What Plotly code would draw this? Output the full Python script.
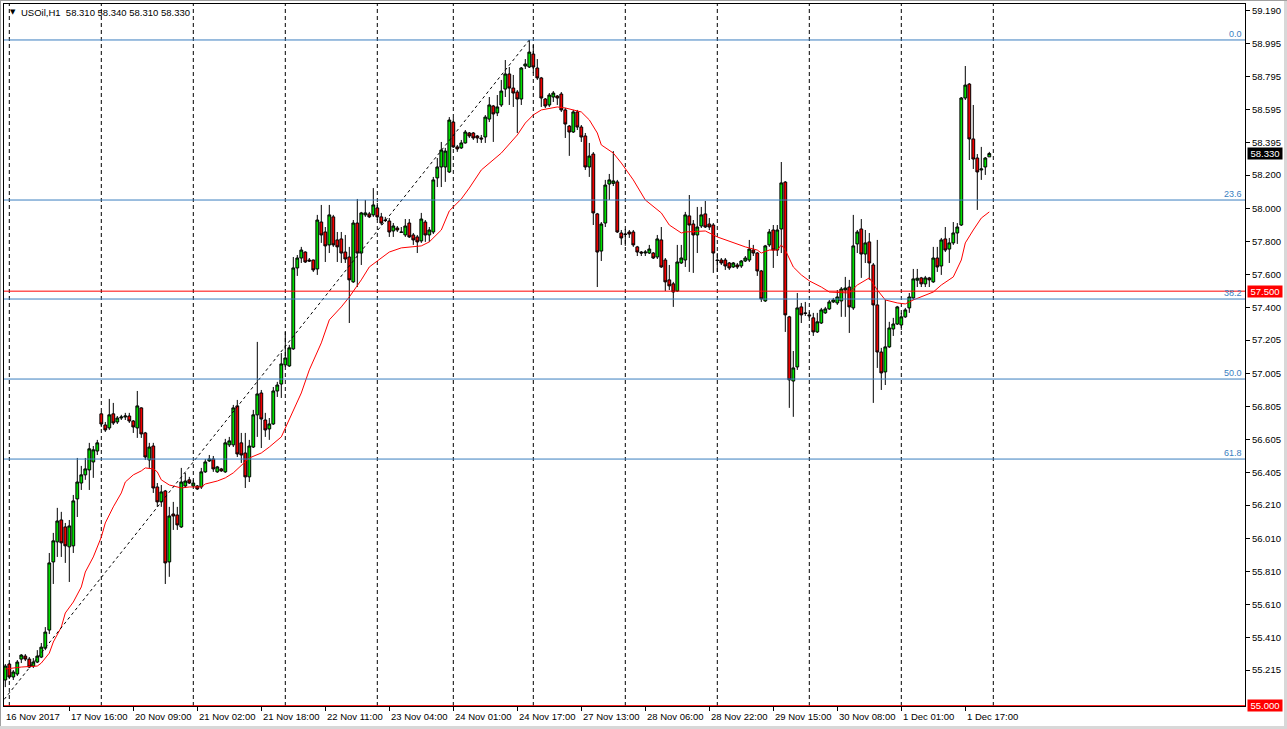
import plotly.graph_objects as go

# ---------------- data (USOil, H1) ----------------
open_ = [55.155, 55.251, 55.173, 55.191, 55.281, 55.299, 55.281, 55.239, 55.263, 55.293,
         55.347, 55.456, 55.867, 55.988, 56.120, 56.078, 55.958, 55.964, 56.247, 56.343,
         56.392, 56.422, 56.470, 56.536, 56.760, 56.693, 56.675, 56.760, 56.711, 56.735,
         56.741, 56.747, 56.717, 56.675, 56.796, 56.645, 56.482, 56.566, 56.319, 56.229,
         56.295, 55.867, 56.156, 56.150, 56.078, 56.325, 56.362, 56.325, 56.325, 56.319,
         56.410, 56.476, 56.488, 56.410, 56.428, 56.410, 56.573, 56.573, 56.808, 56.585,
         56.524, 56.380, 56.560, 56.754, 56.886, 56.723, 56.669, 56.699, 56.898, 56.940,
         57.055, 57.049, 57.152, 57.640, 57.700, 57.736, 57.688, 57.688, 57.634, 57.917,
         57.857, 57.779, 57.948, 57.809, 57.815, 57.736, 57.706, 57.556, 57.911, 57.730,
         57.960, 57.966, 57.960, 58.002, 57.948, 57.929, 57.923, 57.863, 57.881, 57.857,
         57.839, 57.911, 57.839, 57.827, 57.803, 57.917, 57.839, 57.857, 58.183, 58.249,
         58.249, 58.219, 58.520, 58.370, 58.364, 58.394, 58.454, 58.454, 58.436, 58.424,
         58.430, 58.538, 58.617, 58.575, 58.623, 58.719, 58.810, 58.725, 58.701, 58.659,
         58.858, 58.852, 58.930, 58.846, 58.786, 58.659, 58.623, 58.671, 58.677, 58.689,
         58.593, 58.496, 58.460, 58.581, 58.490, 58.436, 58.249, 58.327, 57.966, 57.742,
         57.911, 58.146, 58.150, 58.159, 57.851, 57.845, 57.857, 57.857, 57.767, 57.736,
         57.730, 57.730, 57.730, 57.706, 57.809, 57.688, 57.568, 57.544, 57.501, 57.670,
         57.688, 57.954, 57.905, 57.839, 57.893, 57.966, 57.905, 57.899, 57.688, 57.688,
         57.688, 57.670, 57.646, 57.658, 57.652, 57.682, 57.688, 57.748, 57.730, 57.622,
         57.441, 57.779, 57.869, 57.748, 57.875, 58.158, 57.345, 56.958, 57.043, 57.405,
         57.369, 57.357, 57.339, 57.254, 57.308, 57.369, 57.393, 57.435, 57.429, 57.441,
         57.507, 57.525, 57.399, 57.785, 57.875, 57.724, 57.797, 57.658, 57.417, 57.133,
         57.013, 57.164, 57.272, 57.302, 57.296, 57.345, 57.399, 57.459, 57.566, 57.580,
         57.544, 57.580, 57.556, 57.700, 57.652, 57.815, 57.754, 57.791, 57.851, 57.899,
         58.665, 58.749, 58.418, 58.303, 58.231, 58.249, 58.310]
high = [55.251, 55.257, 55.215, 55.275, 55.311, 55.311, 55.293, 55.287, 55.335, 55.378,
        55.474, 55.921, 56.042, 56.193, 56.169, 56.102, 56.120, 56.271, 56.494, 56.446,
        56.494, 56.585, 56.566, 56.603, 56.772, 56.711, 56.850, 56.826, 56.747, 56.754,
        56.766, 56.766, 56.723, 56.898, 56.800, 56.651, 56.585, 56.585, 56.343, 56.331,
        56.301, 56.199, 56.229, 56.199, 56.434, 56.404, 56.380, 56.362, 56.331, 56.434,
        56.488, 56.512, 56.506, 56.446, 56.434, 56.609, 56.621, 56.814, 56.844, 56.645,
        56.645, 56.603, 56.784, 57.194, 56.904, 56.766, 56.735, 56.922, 56.953, 57.127,
        57.254, 57.176, 57.706, 57.718, 57.767, 57.740, 57.700, 57.690, 57.960, 58.020,
        57.887, 58.020, 57.960, 57.857, 57.857, 57.839, 57.767, 57.929, 58.056, 57.978,
        58.050, 57.978, 58.122, 58.032, 57.972, 57.948, 57.941, 57.911, 57.893, 57.887,
        57.935, 57.935, 57.851, 57.839, 57.972, 57.929, 57.887, 58.189, 58.303, 58.400,
        58.364, 58.550, 58.544, 58.382, 58.412, 58.472, 58.460, 58.460, 58.442, 58.442,
        58.562, 58.671, 58.623, 58.683, 58.774, 58.894, 58.852, 58.804, 58.713, 58.852,
        58.900, 59.015, 58.985, 58.900, 58.792, 58.665, 58.695, 58.707, 58.683, 58.701,
        58.605, 58.502, 58.593, 58.593, 58.502, 58.454, 58.394, 58.339, 57.972, 57.917,
        58.171, 58.207, 58.345, 58.171, 57.869, 57.875, 57.869, 57.869, 57.773, 57.742,
        57.748, 57.779, 57.736, 57.839, 57.887, 57.700, 57.658, 57.556, 57.779, 57.779,
        57.978, 58.080, 57.929, 58.008, 58.008, 58.044, 57.941, 57.911, 57.730, 57.700,
        57.700, 57.676, 57.676, 57.670, 57.688, 57.712, 57.809, 57.779, 57.736, 57.628,
        57.779, 57.875, 57.899, 57.899, 58.279, 58.164, 57.351, 57.139, 57.489, 57.429,
        57.435, 57.375, 57.369, 57.369, 57.399, 57.405, 57.447, 57.459, 57.507, 57.525,
        57.586, 57.568, 57.960, 57.869, 57.935, 57.869, 57.851, 57.670, 57.809, 57.158,
        57.447, 57.315, 57.339, 57.411, 57.369, 57.399, 57.489, 57.634, 57.634, 57.586,
        57.592, 57.586, 57.767, 57.767, 57.821, 57.887, 57.821, 57.917, 57.911, 58.671,
        58.858, 58.755, 58.623, 58.327, 58.370, 58.309, 58.340]
low = [55.112, 55.161, 55.155, 55.179, 55.257, 55.269, 55.227, 55.227, 55.257, 55.287,
       55.335, 55.432, 55.734, 55.897, 55.897, 55.861, 55.746, 55.921, 56.138, 56.301,
       56.362, 56.301, 56.374, 56.512, 56.681, 56.651, 56.663, 56.693, 56.699, 56.723,
       56.723, 56.705, 56.645, 56.615, 56.615, 56.482, 56.434, 56.283, 56.199, 56.199,
       55.734, 55.777, 56.060, 56.060, 56.072, 56.313, 56.337, 56.319, 56.301, 56.307,
       56.404, 56.470, 56.410, 56.404, 56.410, 56.404, 56.560, 56.560, 56.500, 56.464,
       56.313, 56.349, 56.554, 56.621, 56.554, 56.621, 56.603, 56.693, 56.862, 56.856,
       57.043, 57.043, 57.146, 57.592, 57.670, 57.670, 57.676, 57.616, 57.598, 57.791,
       57.676, 57.730, 57.767, 57.676, 57.670, 57.670, 57.308, 57.550, 57.525, 57.658,
       57.948, 57.941, 57.948, 57.929, 57.899, 57.917, 57.827, 57.827, 57.857, 57.851,
       57.827, 57.821, 57.779, 57.730, 57.791, 57.797, 57.797, 57.845, 58.128, 58.128,
       58.159, 58.213, 58.364, 58.340, 58.358, 58.390, 58.424, 58.412, 58.394, 58.394,
       58.394, 58.520, 58.400, 58.556, 58.611, 58.671, 58.623, 58.611, 58.454, 58.623,
       58.840, 58.846, 58.816, 58.774, 58.611, 58.605, 58.611, 58.641, 58.623, 58.581,
       58.424, 58.316, 58.454, 58.472, 58.400, 58.231, 58.189, 57.899, 57.525, 57.682,
       57.887, 58.050, 58.134, 57.851, 57.779, 57.773, 57.821, 57.767, 57.712, 57.712,
       57.712, 57.724, 57.694, 57.694, 57.640, 57.501, 57.507, 57.405, 57.495, 57.664,
       57.646, 57.616, 57.610, 57.730, 57.881, 57.881, 57.869, 57.610, 57.616, 57.658,
       57.628, 57.628, 57.640, 57.634, 57.640, 57.676, 57.676, 57.712, 57.592, 57.435,
       57.435, 57.767, 57.640, 57.712, 57.730, 57.254, 56.796, 56.742, 57.025, 57.308,
       57.351, 57.339, 57.230, 57.248, 57.302, 57.363, 57.387, 57.429, 57.417, 57.345,
       57.345, 57.248, 57.387, 57.730, 57.580, 57.670, 57.568, 56.826, 57.037, 56.904,
       56.934, 57.158, 57.230, 57.296, 57.266, 57.339, 57.369, 57.447, 57.525, 57.525,
       57.525, 57.525, 57.550, 57.616, 57.598, 57.736, 57.670, 57.779, 57.785, 57.893,
       58.653, 58.291, 58.237, 57.990, 58.171, 58.201, 58.310]
close = [55.239, 55.173, 55.203, 55.263, 55.305, 55.281, 55.233, 55.263, 55.299, 55.353,
         55.444, 55.861, 55.994, 56.114, 55.982, 55.964, 56.084, 56.235, 56.349, 56.392,
         56.428, 56.549, 56.543, 56.585, 56.699, 56.663, 56.754, 56.705, 56.735, 56.741,
         56.747, 56.717, 56.681, 56.808, 56.639, 56.500, 56.560, 56.313, 56.229, 56.289,
         55.861, 56.144, 56.144, 56.090, 56.349, 56.355, 56.343, 56.343, 56.307, 56.410,
         56.470, 56.488, 56.428, 56.440, 56.416, 56.585, 56.597, 56.796, 56.518, 56.512,
         56.380, 56.566, 56.754, 56.880, 56.729, 56.663, 56.699, 56.898, 56.934, 57.061,
         57.097, 57.158, 57.640, 57.700, 57.748, 57.676, 57.682, 57.628, 57.929, 57.839,
         57.773, 57.960, 57.779, 57.767, 57.730, 57.694, 57.568, 57.911, 57.730, 57.972,
         57.972, 57.948, 58.020, 57.948, 57.911, 57.926, 57.857, 57.893, 57.869, 57.855,
         57.893, 57.827, 57.809, 57.797, 57.935, 57.839, 57.869, 58.171, 58.249, 58.351,
         58.345, 58.532, 58.370, 58.358, 58.394, 58.460, 58.436, 58.424, 58.424, 58.418,
         58.550, 58.623, 58.569, 58.611, 58.707, 58.810, 58.725, 58.695, 58.659, 58.846,
         58.870, 58.942, 58.852, 58.786, 58.665, 58.617, 58.683, 58.695, 58.665, 58.593,
         58.508, 58.460, 58.581, 58.490, 58.430, 58.249, 58.315, 57.972, 57.736, 57.905,
         58.140, 58.171, 58.165, 57.857, 57.821, 57.842, 57.845, 57.779, 57.736, 57.730,
         57.736, 57.754, 57.700, 57.815, 57.646, 57.556, 57.532, 57.495, 57.676, 57.700,
         57.960, 57.899, 57.839, 57.887, 57.960, 57.887, 57.887, 57.730, 57.685, 57.670,
         57.652, 57.640, 57.670, 57.646, 57.682, 57.700, 57.754, 57.730, 57.622, 57.453,
         57.773, 57.857, 57.748, 57.869, 58.153, 57.357, 56.965, 57.037, 57.399, 57.357,
         57.366, 57.351, 57.254, 57.315, 57.387, 57.393, 57.435, 57.447, 57.465, 57.513,
         57.519, 57.405, 57.773, 57.857, 57.724, 57.791, 57.670, 57.417, 57.133, 57.007,
         57.164, 57.278, 57.302, 57.405, 57.345, 57.387, 57.465, 57.574, 57.578, 57.544,
         57.580, 57.568, 57.700, 57.646, 57.809, 57.748, 57.791, 57.851, 57.887, 58.665,
         58.743, 58.418, 58.297, 58.219, 58.237, 58.303, 58.330]

# moving average, by bar number
ma_bar = [0, 4, 8, 9, 11, 12, 14, 15, 17, 19, 20, 22, 24, 25, 27, 29, 30, 32, 34, 35,
          37, 38, 39, 41, 44, 46, 49, 50, 53, 55, 57, 59, 61, 64, 66, 69, 71, 74, 76, 79,
          81, 84, 86, 89, 91, 94, 96, 99, 101, 104, 106, 109, 111, 114, 116, 119, 124, 128,
          130, 132, 134, 138, 140, 144, 146, 148, 149, 152, 154, 157, 160, 164, 166, 169,
          170, 173, 175, 178, 180, 183, 185, 188, 189, 191, 193, 194, 195, 197, 199, 201,
          204, 206, 211, 213, 216, 218, 220, 223, 225, 227, 229, 232, 234, 237, 239, 240,
          242, 244, 246]
ma_value = [55.221, 55.233, 55.239, 55.257, 55.317, 55.384, 55.474, 55.559, 55.625, 55.716,
            55.806, 55.897, 56.017, 56.102, 56.199, 56.283, 56.349, 56.392, 56.416, 56.434,
            56.428, 56.410, 56.362, 56.331, 56.313, 56.319, 56.319, 56.337, 56.355, 56.374,
            56.404, 56.452, 56.494, 56.524, 56.560, 56.621, 56.723, 56.886, 57.025, 57.188,
            57.327, 57.405, 57.465, 57.568, 57.646, 57.700, 57.736, 57.761, 57.767, 57.773,
            57.797, 57.869, 57.984, 58.056, 58.122, 58.231, 58.333, 58.442, 58.514, 58.563,
            58.593, 58.611, 58.605, 58.581, 58.533, 58.454, 58.382, 58.333, 58.273, 58.171,
            58.050, 57.972, 57.899, 57.851, 57.857, 57.863, 57.863, 57.827, 57.809, 57.785,
            57.767, 57.748, 57.730, 57.748, 57.748, 57.779, 57.748, 57.646, 57.598, 57.562,
            57.525, 57.495, 57.489, 57.537, 57.580, 57.507, 57.447, 57.429, 57.423, 57.447,
            57.465, 57.495, 57.537, 57.586, 57.688, 57.791, 57.869, 57.941, 57.978]

# fibonacci retracement (low sits just left of the visible window)
fib_low = 54.925
fib_low_bar = -4
fib_levels = [0.0, 23.6, 38.2, 50.0, 61.8]

# horizontal price line and price labels
hline_price = 57.500
floor_price = 55.000

# period separators (first bar of each trading day)
day_start_bars = [1, 24, 47, 70, 93, 112, 132, 155, 178, 201, 224, 247]

# time-axis labels
time_label_bars = [0, 16, 32, 48, 64, 80, 96, 112, 128, 144, 160, 176, 192, 208, 224, 240]
time_labels = ["16 Nov 2017", "17 Nov 16:00", "20 Nov 09:00", "21 Nov 02:00", "21 Nov 18:00",
               "22 Nov 11:00", "23 Nov 04:00", "24 Nov 01:00", "24 Nov 17:00", "27 Nov 13:00",
               "28 Nov 06:00", "28 Nov 22:00", "29 Nov 15:00", "30 Nov 08:00", "1 Dec 01:00",
               "1 Dec 17:00"]

# price-axis labels
price_ticks = [59.190, 58.995, 58.795, 58.595, 58.395, 58.200, 58.000, 57.800, 57.600,
               57.400, 57.205, 57.005, 56.805, 56.605, 56.405, 56.210, 56.010, 55.810,
               55.610, 55.410, 55.215]

# ---------------- layout constants ----------------
W, H = 1287, 729
ML, MR, MT, MB = 4, 42, 4, 23
PW, PH = W - ML - MR, H - MT - MB
X_RANGE = [-0.325, -0.325 + PW / 4.0]
Y_RANGE = [54.998, 59.232]
FONT = "Liberation Sans, Arial, sans-serif"
FIB_COLOR = "#3A7EBF"
BULL = "#00E000"
BEAR = "#F00000"


def px_x(p):
    return (p - ML) / PW


def px_y(p):
    return (H - MB - p) / PH


bars = list(range(len(open_)))
fib_high = max(high)
fib_high_bar = high.index(fib_high)

fig = go.Figure()
fig.add_trace(go.Candlestick(
    x=bars, open=open_, high=high, low=low, close=close,
    increasing=dict(line=dict(color="black", width=1), fillcolor=BULL),
    decreasing=dict(line=dict(color="black", width=1), fillcolor=BEAR),
    whiskerwidth=0, hoverinfo="none", showlegend=False))

fig.add_trace(go.Scatter(x=ma_bar, y=ma_value, mode="lines",
                         line=dict(color="#FF0000", width=1),
                         hoverinfo="skip", showlegend=False))

fig.add_trace(go.Scatter(x=[fib_low_bar, fib_high_bar], y=[fib_low, fib_high], mode="lines",
                         line=dict(color="black", width=1, dash="3px,3px"),
                         hoverinfo="skip", showlegend=False))

shapes = []
for b in day_start_bars:
    shapes.append(dict(type="line", xref="x", yref="paper", x0=b, x1=b, y0=0, y1=1,
                       line=dict(color="black", width=1, dash="4px,3px"), layer="below"))

annotations = []
for lv in fib_levels:
    price = fib_high - lv / 100.0 * (fib_high - fib_low)
    shapes.append(dict(type="line", xref="paper", yref="y", x0=0, x1=1, y0=price, y1=price,
                       line=dict(color=FIB_COLOR, width=1), layer="above"))
    annotations.append(dict(xref="paper", yref="y", x=1, y=price, xanchor="right",
                            yanchor="bottom", xshift=-1, yshift=-1, showarrow=False,
                            text=f"{lv:.1f}", font=dict(family=FONT, size=9, color=FIB_COLOR)))

shapes.append(dict(type="line", xref="paper", yref="y", x0=0, x1=1, y0=hline_price,
                   y1=hline_price, line=dict(color="#FF0000", width=1), layer="above"))
shapes.append(dict(type="line", xref="paper", yref="y", x0=0, x1=1, y0=floor_price,
                   y1=floor_price, line=dict(color="#FF0000", width=1), layer="above"))

# window border
shapes.append(dict(type="line", xref="paper", yref="paper", x0=px_x(0.5), x1=px_x(0.5),
                   y0=px_y(0), y1=px_y(729), line=dict(color="#A0A0A0", width=1)))
shapes.append(dict(type="line", xref="paper", yref="paper", x0=px_x(1285.5), x1=px_x(1285.5),
                   y0=px_y(0), y1=px_y(729), line=dict(color="#D8D8D8", width=3)))
shapes.append(dict(type="line", xref="paper", yref="paper", x0=px_x(0), x1=px_x(1287),
                   y0=px_y(727.5), y1=px_y(727.5), line=dict(color="#D8D8D8", width=3)))
shapes.append(dict(type="line", xref="paper", yref="paper", x0=px_x(0), x1=px_x(1287),
                   y0=px_y(0.5), y1=px_y(0.5), line=dict(color="#A0A0A0", width=1)))

# time labels (left-aligned at their tick, MT4 style)
for b, t in zip(time_label_bars, time_labels):
    annotations.append(dict(xref="x", yref="paper", x=b, y=0, xanchor="left", yanchor="top",
                            yshift=-3, xshift=-1 if b == 0 else 0, showarrow=False, text=t,
                            font=dict(family=FONT, size=9.5, color="black")))


# price tags on the axis
def price_tag(price, bg):
    return dict(xref="paper", yref="y", x=1, y=price, xanchor="left", yanchor="middle",
                xshift=2, showarrow=False, text=f"{price:.3f}", bgcolor=bg, width=34,
                height=11, borderpad=0, align="center",
                font=dict(family=FONT, size=9.5, color="white"))


annotations.append(price_tag(close[-1], "black"))
annotations.append(price_tag(hline_price, "#FF0000"))
annotations.append(price_tag(floor_price, "#FF0000"))

# header
annotations.append(dict(xref="paper", yref="paper", x=px_x(7.5), y=px_y(12.5), xanchor="left",
                        yanchor="middle", showarrow=False, text="\u25bc",
                        font=dict(family="DejaVu Sans", size=7, color="black")))
header = (f"USOil,H1\u00a0\u00a0{open_[-1]:.3f} {high[-1]:.3f} "
          f"{low[-1]:.3f} {close[-1]:.3f}")
annotations.append(dict(xref="paper", yref="paper", x=px_x(18.5), y=px_y(12.5),
                        xanchor="left", yanchor="middle", showarrow=False, text=header,
                        font=dict(family=FONT, size=9.5, color="black")))

fig.update_layout(
    width=W, height=H, margin=dict(l=ML, r=MR, t=MT, b=MB, pad=0),
    paper_bgcolor="white", plot_bgcolor="white", showlegend=False,
    hovermode=False, shapes=shapes, annotations=annotations,
    boxgap=0.3, boxgroupgap=0,
    xaxis=dict(range=X_RANGE, rangeslider=dict(visible=False), showgrid=False,
               zeroline=False, showline=True, linecolor="black", linewidth=1, mirror=True,
               ticks="outside", ticklen=4, tickcolor="black", tickvals=time_label_bars[1:],
               showticklabels=False, fixedrange=True),
    yaxis=dict(range=Y_RANGE, side="right", showgrid=False, zeroline=False, showline=True,
               linecolor="black", linewidth=1, mirror=True, ticks="outside", ticklen=4,
               tickcolor="black", tickvals=price_ticks,
               ticktext=[f"{v:.3f}" for v in price_ticks],
               tickfont=dict(family=FONT, size=9.5, color="black"), fixedrange=True),
)

fig.write_html("out.html", config={"displayModeBar": False},
               post_script="document.body.style.margin='0px';")
